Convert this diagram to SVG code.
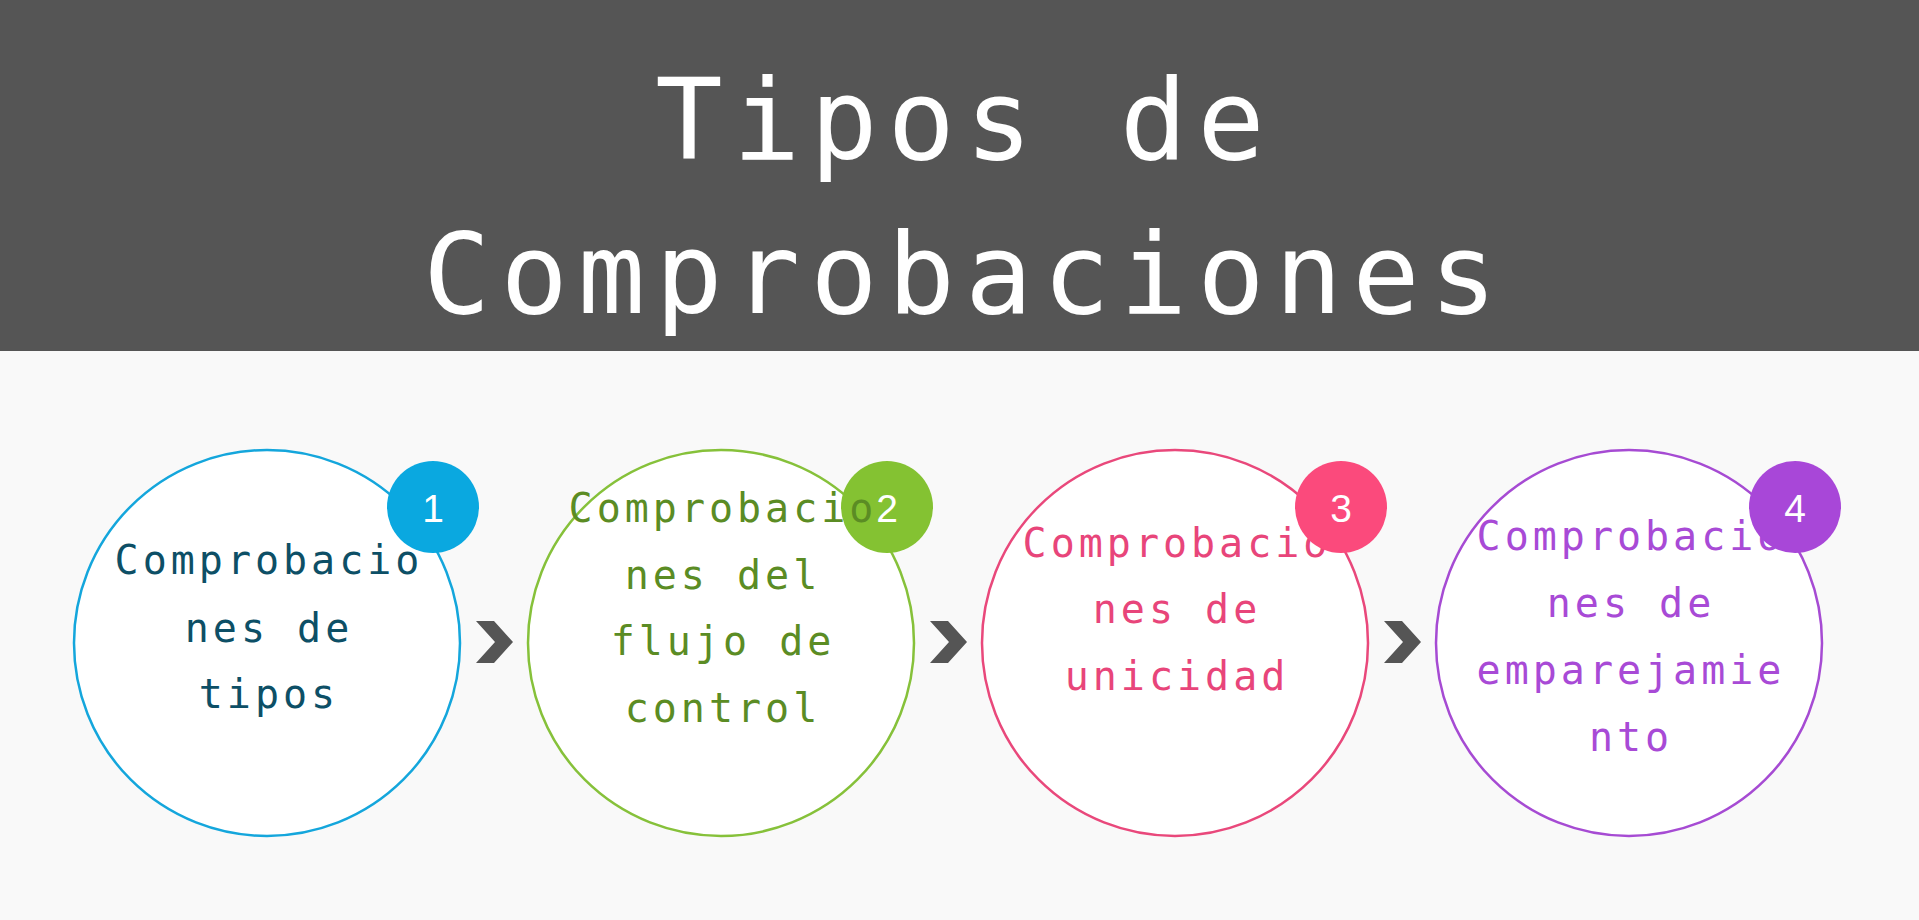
<svg xmlns="http://www.w3.org/2000/svg" width="1919" height="920" viewBox="0 0 1919 920">
<defs>
<style>
.title{font-family:"DejaVu Sans Mono","Liberation Mono",monospace;font-size:112px;letter-spacing:10px;fill:#ffffff;text-anchor:middle}
.lbl{font-family:"DejaVu Sans Mono","Liberation Mono",monospace;font-size:40px;letter-spacing:4px;text-anchor:middle}
.ring{fill:#ffffff;stroke-width:2.5}
.num{font-family:"Liberation Sans",Arial,sans-serif;font-size:39px;fill:#ffffff;text-anchor:middle}
.chev{fill:#555555}
</style>
<path id="chevron" d="M-18,-21 L0,-21 L19,0 L0,21 L-18,21 L1,0 Z"/>
</defs>
<rect x="0" y="0" width="1919" height="920" fill="#f9f9f9"/>
<g id="header">
<rect x="0" y="0" width="1919" height="351" fill="#555555"/>
<text class="title" x="965" y="159">Tipos de</text>
<text class="title" x="965" y="313">Comprobaciones</text>
</g>
<g id="connectors">
<use href="#chevron" class="chev" x="494" y="642"/>
<use href="#chevron" class="chev" x="948" y="642"/>
<use href="#chevron" class="chev" x="1402" y="642"/>
</g>
<g id="node1">
<circle class="ring" cx="267" cy="643" r="193" stroke="#14a6dc"/>
<g class="lbl" fill="#0d4f66">
<text x="269" y="574">Comprobacio</text>
<text x="269" y="642">nes de</text>
<text x="269" y="708">tipos</text>
</g>
<circle cx="433" cy="507" r="46" fill="#0aa8e0"/>
<text class="num" x="433" y="522">1</text>
</g>
<g id="node2">
<circle class="ring" cx="721" cy="643" r="193" stroke="#86c13a"/>
<circle cx="887" cy="507" r="46" fill="#84c232"/>
<text class="num" x="887" y="522">2</text>
<g class="lbl" fill="#5b8c24">
<text x="723" y="522">Comprobacio</text>
<text x="723" y="589">nes del</text>
<text x="723" y="655">flujo de</text>
<text x="723" y="722">control</text>
</g>
</g>
<g id="node3">
<circle class="ring" cx="1175" cy="643" r="193" stroke="#e9487b"/>
<g class="lbl" fill="#e8457a">
<text x="1177" y="557">Comprobacio</text>
<text x="1177" y="623">nes de</text>
<text x="1177" y="690">unicidad</text>
</g>
<circle cx="1341" cy="507" r="46" fill="#fb4a7c"/>
<text class="num" x="1341" y="522">3</text>
</g>
<g id="node4">
<circle class="ring" cx="1629" cy="643" r="193" stroke="#a64bd3"/>
<g class="lbl" fill="#a84ad6">
<text x="1631" y="550">Comprobacio</text>
<text x="1631" y="617">nes de</text>
<text x="1631" y="684">emparejamie</text>
<text x="1631" y="751">nto</text>
</g>
<circle cx="1795" cy="507" r="46" fill="#a847d8"/>
<text class="num" x="1795" y="522">4</text>
</g>
</svg>
